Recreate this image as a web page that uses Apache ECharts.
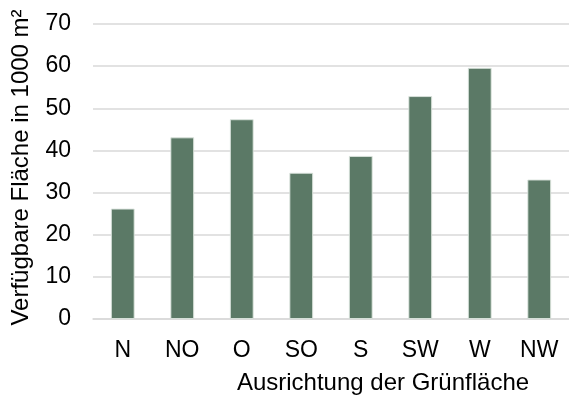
<!DOCTYPE html>
<html>
<head>
<meta charset="utf-8">
<script src="https://cdn.jsdelivr.net/npm/echarts@6/dist/echarts.min.js"></script>
<style>
  html, body { margin: 0; padding: 0; background: #fff; }
  #chart { width: 569px; height: 400px; }
</style>
</head>
<body>
<div id="chart"></div>
<script>
// Verfügbare Grünfläche je Ausrichtung (in 1000 m²)
const categories = ['N', 'NO', 'O', 'SO', 'S', 'SW', 'W', 'NW'];
const areaValues = [26.2, 43.1, 47.4, 34.7, 38.7, 52.9, 59.6, 33.1];
const yTicks = { min: 0, max: 70, interval: 10 };
const xAxisTitle = 'Ausrichtung der Grünfläche';
const yAxisTitle = 'Verfügbare Fläche in 1000 m²';

const font = 'Liberation Sans, Arial, sans-serif';
const chart = echarts.init(document.getElementById('chart'), null, { renderer: 'canvas' });

chart.setOption({
  animation: false,
  backgroundColor: '#ffffff',
  grid: { left: 93, right: -6, top: 24, bottom: 76.7, containLabel: false },
  xAxis: {
    type: 'category',
    data: categories,
    name: xAxisTitle,
    nameLocation: 'middle',
    nameGap: 52,
    // title sits right of the plot centre
    nameTextStyle: { fontFamily: font, fontSize: 24, color: '#000', padding: [0, 0, 0, 104] },
    axisLine: { show: true, lineStyle: { color: '#d9d9d9', width: 1.5 } },
    axisTick: { show: false },
    axisLabel: { fontFamily: font, fontSize: 23, color: '#000', margin: 20 }
  },
  yAxis: {
    type: 'value',
    min: yTicks.min,
    max: yTicks.max,
    interval: yTicks.interval,
    name: yAxisTitle,
    nameLocation: 'middle',
    nameGap: 60,
    nameTextStyle: { fontFamily: font, fontSize: 24, color: '#000', padding: [0, 0, 0, 8] },
    axisLine: { show: false },
    axisTick: { show: false },
    axisLabel: { fontFamily: font, fontSize: 23, color: '#000', margin: 22 },
    splitLine: { lineStyle: { color: '#d9d9d9', width: 1.5 } }
  },
  series: [{
    type: 'bar',
    data: areaValues,
    barWidth: '40%',
    itemStyle: { color: '#5b7966', borderColor: 'rgba(220,228,222,0.9)', borderWidth: 1 }
  }]
});
</script>
</body>
</html>
